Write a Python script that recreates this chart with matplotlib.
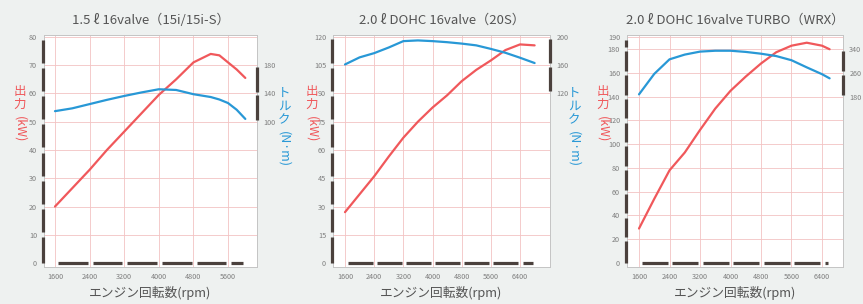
import matplotlib
matplotlib.use("Agg")
import matplotlib.pyplot as plt
import matplotlib.transforms as mtransforms

plt.rcParams['font.family'] = ['Noto Sans CJK JP', 'DejaVu Sans']

# -----------------------------------------------------------------------
# Data
# -----------------------------------------------------------------------
titles = ["1.5 ℓ 16valve（15i/15i-S）",
          "2.0 ℓ DOHC 16valve（20S）",
          "2.0 ℓ DOHC 16valve TURBO（WRX）"]

rpm_15 = [1600, 2000, 2400, 2800, 3200, 3600, 4000, 4400, 4800, 5200, 5400, 5600, 5800, 6000]
kw_15 = [20, 26.5, 33, 40, 46.5, 53, 59.5, 65, 71, 74, 73.5, 71, 68.5, 65.5]
tq_15 = [115, 119, 125, 131, 136.5, 141.5, 146, 145, 139, 135, 131.5, 126.5, 117, 104]

rpm_20 = [1600, 2000, 2400, 2800, 3200, 3600, 4000, 4400, 4800, 5200, 5600, 6000, 6400, 6800]
kw_20 = [27, 36.5, 46, 56.5, 66.5, 75, 82.5, 89, 96.5, 102.5, 107.5, 113, 116, 115.5]
tq_20 = [161, 171, 177, 185, 194, 195, 194, 192.5, 190.5, 188, 183, 177.5, 170.5, 163]

rpm_wrx = [1600, 2000, 2400, 2800, 3200, 3600, 4000, 4400, 4800, 5200, 5600, 6000, 6400, 6600]
kw_wrx = [29, 54, 78, 93, 112, 130, 145, 157, 168, 177.5, 183, 185.5, 183, 180]
tq_wrx = [188, 257, 306, 322, 332, 335, 335, 331, 325, 317, 303, 279, 256, 242]

x_ticks_15 = [1600, 2400, 3200, 4000, 4800, 5600]
x_ticks_20 = [1600, 2400, 3200, 4000, 4800, 5600, 6400]
kw_ticks_15 = [0, 10, 20, 30, 40, 50, 60, 70, 80]
kw_ticks_20 = [0, 15, 30, 45, 60, 75, 90, 105, 120]
kw_ticks_wrx = [0, 20, 40, 60, 80, 100, 120, 140, 160, 180, 190]
tq_ticks_15 = [100, 140, 180]
tq_ticks_20 = [120, 160, 200]
tq_ticks_wrx = [180, 260, 340]

xlabel = "エンジン回転数(rpm)"
kw_label = ("出力", "(kW)")
tq_label = ("トルク", "(N·m)")

# -----------------------------------------------------------------------
# Style
# -----------------------------------------------------------------------
RED = "#f0585b"
BLUE = "#2898d6"
BAR = "#4b413d"
GRID = "#f3c3c3"
FRAME = "#c4c4c4"
TXT = "#555555"
TICK = "#7d7d7d"
BG = "#eef1f0"

fig = plt.figure(figsize=(8.63, 3.04), dpi=100, facecolor=BG)
W, H = 863, 304


def px_axes(x0, x1, y0, y1):
    return fig.add_axes([x0 / W, 1 - y1 / H, (x1 - x0) / W, (y1 - y0) / H])


def vlabel(ax, dx_px, dy_px, head, tail, color, anchor_right=False):
    """Japanese-style vertical label: upright kana/kanji then rotated tail."""
    base_x = 1.0 if anchor_right else 0.0
    step = 13
    for i, ch in enumerate(head):
        tr = mtransforms.offset_copy(ax.transAxes, fig=fig,
                                     x=dx_px * 0.72, y=-(dy_px + i * step) * 0.72,
                                     units="points")
        ax.text(base_x, 1.0, ch, transform=tr, ha="center", va="top",
                color=color, fontsize=9, clip_on=False)
    tr = mtransforms.offset_copy(ax.transAxes, fig=fig,
                                 x=dx_px * 0.72, y=-(dy_px + len(head) * step + 5) * 0.72,
                                 units="points")
    ax.text(base_x, 1.0, tail, transform=tr, ha="center", va="top", rotation=-90,
            color=color, fontsize=9, clip_on=False)


def panel(box, title, rpm, kw, tq, xlim, xticks, kw_ticks, kw_ylim,
          tq_ticks, anchors, bar_end):
    ax = px_axes(*box)
    ax.set_facecolor("white")
    ax.set_xlim(*xlim)
    ax.set_ylim(*kw_ylim)
    ax.set_xticks(xticks)
    ax.set_yticks(kw_ticks)
    ax.tick_params(length=0, labelsize=5.2, labelcolor=TICK)
    ax.tick_params(axis="y", pad=5)
    ax.tick_params(axis="x", pad=4)
    for s in ax.spines.values():
        s.set_color(FRAME)
        s.set_linewidth(0.7)
    for x in xticks:
        ax.axvline(x, color=GRID, lw=0.6, zorder=0)
    for y in kw_ticks[1:]:
        ax.axhline(y, color=GRID, lw=0.6, zorder=0)

    # twin axis for torque, linear map from two anchor pairs
    (k1, t1), (k2, t2) = anchors
    b = (t2 - t1) / (k2 - k1)
    tq_ylim = (t1 + (kw_ylim[0] - k1) * b, t1 + (kw_ylim[1] - k1) * b)
    ax2 = ax.twinx()
    ax2.set_ylim(*tq_ylim)
    ax2.set_yticks(tq_ticks)
    ax2.tick_params(length=0, labelsize=5.2, labelcolor=TICK, pad=4.5)
    for s in ax2.spines.values():
        s.set_visible(False)

    ax.plot(rpm, kw, color=RED, lw=1.6, solid_capstyle="round", zorder=3)
    ax2.plot(rpm, tq, color=BLUE, lw=1.6, solid_capstyle="round", zorder=3)

    # thick broken axis bars
    ytr = mtransforms.blended_transform_factory(ax.transAxes, ax.transData)
    gy = 0.09 * (kw_ticks[2] - kw_ticks[1])
    for lo, hi in zip(kw_ticks[:-1], kw_ticks[1:]):
        ax.plot([-0.006, -0.006], [lo + (gy if lo > 0 else 0), hi - gy], color=BAR,
                lw=2.3, solid_capstyle="butt", transform=ytr, clip_on=False, zorder=5)
    ytr2 = mtransforms.blended_transform_factory(ax2.transAxes, ax2.transData)
    gt = 0.07 * (tq_ticks[1] - tq_ticks[0])
    for lo, hi in zip(tq_ticks[:-1], tq_ticks[1:]):
        ax2.plot([1.0, 1.0], [lo + gt, hi - gt], color=BAR, lw=2.3,
                 solid_capstyle="butt", transform=ytr2, clip_on=False, zorder=5)
    gx = 0.09 * (xticks[1] - xticks[0])
    edges = list(xticks) + [bar_end]
    for lo, hi in zip(edges[:-1], edges[1:]):
        ax.plot([lo + gx, hi - gx * 0.6], [0, 0], color=BAR, lw=2.3,
                solid_capstyle="butt", clip_on=False, zorder=5)

    ax.set_title(title, fontsize=9.5, color=TXT, pad=8)
    ax.set_xlabel(xlabel, fontsize=9.2, color=TXT, labelpad=4)
    return ax


ax1 = panel((44, 257, 35, 267), titles[0], rpm_15, kw_15, tq_15,
            (1346, 6270), x_ticks_15, kw_ticks_15, (-1.4, 80.7),
            tq_ticks_15, ((60, 140), (70, 180)), rpm_15[-1])
ax2 = panel((333, 550, 35, 267), titles[1], rpm_20, kw_20, tq_20,
            (1271, 7222), x_ticks_20, kw_ticks_20, (-2.1, 121),
            tq_ticks_20, ((105, 160), (120, 200)), rpm_20[-1])
ax3 = panel((627, 843, 35, 267), titles[2], rpm_wrx, kw_wrx, tq_wrx,
            (1285, 6951), x_ticks_20, kw_ticks_wrx, (-3.4, 192),
            tq_ticks_wrx, ((160, 260), (180, 340)), rpm_wrx[-1])

vlabel(ax1, -24, 50, kw_label[0], kw_label[1], RED)
vlabel(ax1, 27, 52, tq_label[0], tq_label[1], BLUE, anchor_right=True)
vlabel(ax2, -21, 50, kw_label[0], kw_label[1], RED)
vlabel(ax2, 24, 52, tq_label[0], tq_label[1], BLUE, anchor_right=True)
vlabel(ax3, -24, 50, kw_label[0], kw_label[1], RED)

fig.savefig("out.png", dpi=100, facecolor=BG)
